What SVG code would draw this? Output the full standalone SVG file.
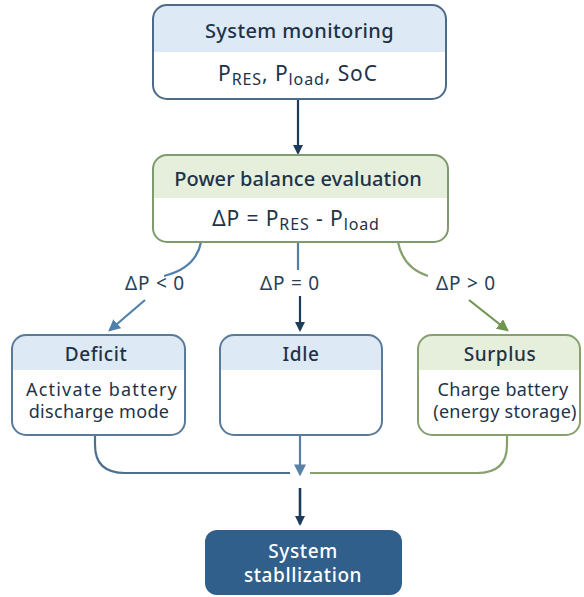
<svg xmlns="http://www.w3.org/2000/svg" width="584" height="597" viewBox="0 0 584 597">
<defs>
<style>
text{font-family:"Noto Sans","Open Sans","Liberation Sans",sans-serif;fill:#1e3348;text-anchor:middle}
.t{font-size:20px;font-weight:500;letter-spacing:0.4px}
.b{font-size:18px;letter-spacing:0.3px}
.f{font-size:21px;letter-spacing:0.9px}
.h{font-size:19px;font-weight:500;letter-spacing:0.6px}
.lbl{font-size:19px;fill:#2a3f55;letter-spacing:0.8px}
.w{fill:#ffffff;font-size:19px;font-weight:500;letter-spacing:0.6px}
.edge{fill:none;stroke-width:2.2}
</style>
<marker id="aDark" markerWidth="10" markerHeight="10" refX="8" refY="5" orient="auto" markerUnits="userSpaceOnUse" viewBox="0 0 10 10"><path d="M0,0 L10,5 L0,10 z" fill="#1f3b5a"/></marker>
<marker id="aBlue" markerWidth="12" markerHeight="12" refX="8" refY="5" orient="auto" markerUnits="userSpaceOnUse" viewBox="0 0 10 10"><path d="M0,0 L10,5 L0,10 z" fill="#4f7fab"/></marker>
<marker id="aGreen" markerWidth="12" markerHeight="12" refX="8" refY="5" orient="auto" markerUnits="userSpaceOnUse" viewBox="0 0 10 10"><path d="M0,0 L10,5 L0,10 z" fill="#6f9550"/></marker>
<marker id="aMid" markerWidth="12" markerHeight="12" refX="8" refY="5" orient="auto" markerUnits="userSpaceOnUse" viewBox="0 0 10 10"><path d="M0,0 L10,5 L0,10 z" fill="#5a80a8"/></marker>
<clipPath id="c1"><rect x="153" y="5" width="293" height="94" rx="14"/></clipPath>
<clipPath id="c2"><rect x="153" y="155" width="295" height="87" rx="14"/></clipPath>
<clipPath id="c3"><rect x="12" y="335" width="173" height="100" rx="14"/></clipPath>
<clipPath id="c4"><rect x="220" y="335" width="162" height="100" rx="14"/></clipPath>
<clipPath id="c5"><rect x="418" y="335" width="162" height="100" rx="14"/></clipPath>
</defs>

<g id="connectors">
<line class="edge" x1="298" y1="99" x2="298" y2="153" stroke="#1f3b5a" marker-end="url(#aDark)"/>
<path class="edge" d="M201,242 Q196,268 164,276" stroke="#4f7fab"/>
<line class="edge" x1="145" y1="300" x2="110" y2="330" stroke="#4f7fab" marker-end="url(#aBlue)"/>
<line class="edge" x1="298" y1="242" x2="298" y2="270" stroke="#4f7fab"/>
<line class="edge" x1="300" y1="296" x2="300" y2="330" stroke="#1f3b5a" marker-end="url(#aDark)"/>
<path class="edge" d="M398,242 Q403,268 428,276" stroke="#86a06e"/>
<line class="edge" x1="469" y1="300" x2="507" y2="330" stroke="#6f9550" marker-end="url(#aGreen)"/>
<path class="edge" d="M95,435 L95,445 Q95,473 125,473 L290,473" stroke="#4f6f8f"/>
<path class="edge" d="M507,435 L507,445 Q507,473 477,473 L310,473" stroke="#86a06e"/>
<line class="edge" x1="300" y1="435" x2="300" y2="474" stroke="#5a80a8" marker-end="url(#aMid)"/>
<line x1="300" y1="488" x2="300" y2="524" stroke="#1f3b5a" stroke-width="2.6" marker-end="url(#aDark)"/>
</g>

<g id="system-monitoring">
<g clip-path="url(#c1)">
<rect x="153" y="5" width="293" height="94" fill="#ffffff"/>
<rect x="153" y="5" width="293" height="47" fill="#dde9f5"/>
</g>
<rect x="153" y="5" width="293" height="94" rx="14" fill="none" stroke="#4d6a86" stroke-width="2"/>
<text class="t" x="299.5" y="38">System monitoring</text>
<text class="f" x="298" y="81">P<tspan font-size="16" dy="4">RES</tspan><tspan dy="-4">, P</tspan><tspan font-size="16" dy="4">load</tspan><tspan dy="-4">, SoC</tspan></text>
</g>

<g id="power-balance">
<g clip-path="url(#c2)">
<rect x="153" y="155" width="295" height="87" fill="#ffffff"/>
<rect x="153" y="155" width="295" height="43" fill="#e5efdc"/>
</g>
<rect x="153" y="155" width="295" height="87" rx="14" fill="none" stroke="#7f9a6c" stroke-width="2"/>
<text class="t" x="298" y="186" style="letter-spacing:0.1px">Power balance evaluation</text>
<text class="f" x="296" y="226">ΔP = P<tspan font-size="16" dy="4">RES</tspan><tspan dy="-4"> - P</tspan><tspan font-size="16" dy="4">load</tspan></text>
</g>

<g id="labels">
<text class="lbl" x="155" y="290">ΔP &lt; 0</text>
<text class="lbl" x="290" y="290">ΔP = 0</text>
<text class="lbl" x="466" y="290">ΔP &gt; 0</text>
</g>

<g id="deficit">
<g clip-path="url(#c3)">
<rect x="12" y="335" width="173" height="100" fill="#ffffff"/>
<rect x="12" y="335" width="173" height="35" fill="#dde9f5"/>
</g>
<rect x="12" y="335" width="173" height="100" rx="14" fill="none" stroke="#5a7a99" stroke-width="2"/>
<text class="h" x="96" y="361">Deficit</text>
<text class="b" x="102" y="396" style="letter-spacing:1.2px">Activate battery</text>
<text class="b" x="99" y="418">discharge mode</text>
</g>

<g id="idle">
<g clip-path="url(#c4)">
<rect x="220" y="335" width="162" height="100" fill="#ffffff"/>
<rect x="220" y="335" width="162" height="35" fill="#dde9f5"/>
</g>
<rect x="220" y="335" width="162" height="100" rx="14" fill="none" stroke="#5a7a99" stroke-width="2"/>
<text class="h" x="301" y="361">Idle</text>
</g>

<g id="surplus">
<g clip-path="url(#c5)">
<rect x="418" y="335" width="162" height="100" fill="#ffffff"/>
<rect x="418" y="335" width="162" height="35" fill="#e5efdc"/>
</g>
<rect x="418" y="335" width="162" height="100" rx="14" fill="none" stroke="#86a06e" stroke-width="2"/>
<text class="h" x="500" y="361">Surplus</text>
<text class="b" x="503" y="396">Charge battery</text>
<text class="b" x="505" y="418">(energy storage)</text>
</g>

<g id="stabilization">
<rect x="205" y="530" width="197" height="65" rx="12" fill="#2f5f8a"/>
<text class="w" x="303" y="558">System</text>
<text class="w" x="303" y="582">stabllization</text>
</g>
</svg>
